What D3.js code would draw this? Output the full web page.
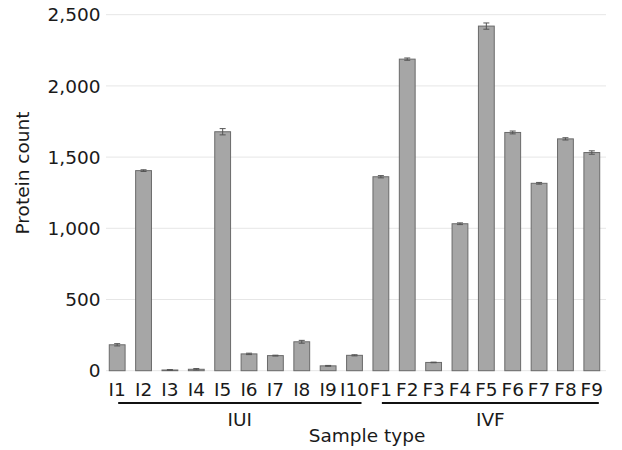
<!DOCTYPE html>
<html>
<head>
<meta charset="utf-8">
<script src="https://cdn.jsdelivr.net/npm/d3@7"></script>
<style>
  body { margin: 0; background: #fff; }
  svg text { font-family: "DejaVu Sans", Verdana, sans-serif; fill: #1a1a1a; }
</style>
</head>
<body>
<svg id="chart"></svg>
<script>
const samples = ["I1","I2","I3","I4","I5","I6","I7","I8","I9","I10","F1","F2","F3","F4","F5","F6","F7","F8","F9"]
const counts = [182, 1405, 5, 10, 1678, 118, 106, 203, 34, 108, 1362, 2188, 58, 1032, 2420, 1673, 1316, 1628, 1532]
const errors = [8, 6, 3, 5, 22, 5, 3, 10, 3, 4, 8, 8, 2, 6, 22, 10, 6, 8, 12]
const yTicks = [0, 500, 1000, 1500, 2000, 2500]
const groups = [
  {name: "IUI", first: "I1", last: "I10"},
  {name: "IVF", first: "F1", last: "F9"}
]

const width = 622, height = 450
const fontSize = 18.5

const svg = d3.select("#chart")
  .attr("width", width)
  .attr("height", height)

// plot box
const plotLeft = 104, plotRight = 605, plotTop = 14.7, plotBottom = 370.7

const xScale = d3.scaleBand()
  .domain(samples)
  .range([plotLeft, plotRight])
  .paddingInner(0.4)
  .paddingOuter(0.2)

const yScale = d3.scaleLinear()
  .domain([0, 2500])
  .range([plotBottom, plotTop])

// gridlines
svg.append("g")
  .selectAll("line")
  .data(yTicks)
  .join("line")
  .attr("x1", plotLeft + 2)
  .attr("x2", plotRight + 1)
  .attr("y1", d => yScale(d))
  .attr("y2", d => yScale(d))
  .attr("stroke", "#e6e6e6")
  .attr("stroke-width", 1)

// y axis labels
svg.append("g")
  .selectAll("text")
  .data(yTicks)
  .join("text")
  .attr("x", plotLeft - 3.5)
  .attr("y", d => yScale(d))
  .attr("dy", "0.36em")
  .attr("text-anchor", "end")
  .style("font-size", fontSize + "px")
  .text(d => d3.format(",")(d))

const data = samples.map((s, i) => ({sample: s, value: counts[i], err: errors[i]}))

// bars
svg.append("g")
  .selectAll("rect")
  .data(data)
  .join("rect")
  .attr("x", d => xScale(d.sample))
  .attr("y", d => yScale(d.value))
  .attr("width", xScale.bandwidth())
  .attr("height", d => yScale(0) - yScale(d.value))
  .attr("fill", "#a6a6a6")
  .attr("stroke", "#6a6a6a")
  .attr("stroke-width", 1)

// error bars
const eb = svg.append("g")
  .attr("stroke", "#555")
  .attr("stroke-width", 1)
data.forEach(d => {
  const cx = xScale(d.sample) + xScale.bandwidth() / 2
  const hi = yScale(d.value + d.err), lo = yScale(Math.max(0, d.value - d.err))
  eb.append("line").attr("x1", cx).attr("x2", cx).attr("y1", hi).attr("y2", lo)
  eb.append("line").attr("x1", cx - 3).attr("x2", cx + 3).attr("y1", hi).attr("y2", hi)
  eb.append("line").attr("x1", cx - 3).attr("x2", cx + 3).attr("y1", lo).attr("y2", lo)
})

// x tick labels
svg.append("g")
  .selectAll("text")
  .data(samples)
  .join("text")
  .attr("x", d => xScale(d) + xScale.bandwidth() / 2)
  .attr("y", 396)
  .attr("text-anchor", "middle")
  .style("font-size", fontSize + "px")
  .text(d => d)

// group brackets
groups.forEach(g => {
  const x1 = xScale(g.first) + xScale.bandwidth() / 2 + 1
  const x2 = xScale(g.last) + xScale.bandwidth() / 2 + 7
  svg.append("line")
    .attr("x1", x1).attr("x2", x2)
    .attr("y1", 403).attr("y2", 403)
    .attr("stroke", "#111")
    .attr("stroke-width", 2)
  svg.append("text")
    .attr("x", (x1 + x2) / 2)
    .attr("y", 425.5)
    .attr("text-anchor", "middle")
    .style("font-size", fontSize + "px")
    .text(g.name)
})

// axis titles
svg.append("text")
  .attr("x", 367)
  .attr("y", 442)
  .attr("text-anchor", "middle")
  .style("font-size", fontSize + "px")
  .text("Sample type")

svg.append("text")
  .attr("transform", "translate(29, 173) rotate(-90)")
  .attr("text-anchor", "middle")
  .style("font-size", fontSize + "px")
  .text("Protein count")
</script>
</body>
</html>
